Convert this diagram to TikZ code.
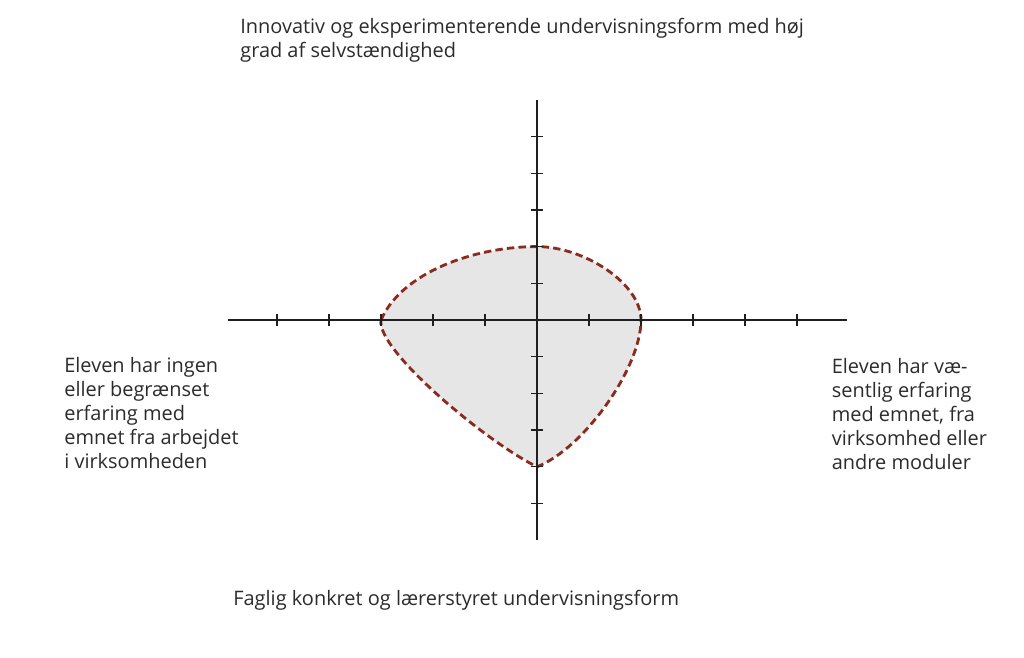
\documentclass[tikz,border=0pt]{standalone}
\usepackage{fontspec}
\setmainfont{Open Sans}
\usetikzlibrary{calc}
\definecolor{kurve}{HTML}{8B2A1E}
\definecolor{flade}{HTML}{E6E6E6}
\definecolor{tekst}{HTML}{2B2B2B}
\tikzset{
  akse/.style={line width=1.35pt,color=black!88},
  streg/.style={line width=0.75pt,color=black!88},
  omraade/.style={line width=1.6pt,color=kurve,dash pattern=on 4.2pt off 2.4pt,fill=flade},
  etiket/.style={inner sep=0pt,align=left,color=tekst,font=\fontsize{11.35}{13.66}\selectfont}
}
\begin{document}
\begin{tikzpicture}[x=1.04cm,y=0.734cm]
      \useasboundingbox (-10.327,-9.183) rectangle (9.365,8.719);
      % profil
      \draw[omraade] (-3,0) .. controls (-2.6,1.3) and (-1.2,2) .. (0,2)
        .. controls (0.9,2) and (2,1) .. (2,0)
        .. controls (2,-1.3) and (0.9,-3.5) .. (0,-4)
        .. controls (-1,-3.3) and (-3.1,-0.8) .. cycle;
      % akser
      \coordinate (venstre) at (-5.94,0);
      \coordinate (hoejre) at (5.96,0);
      \coordinate (top) at (0,6);
      \coordinate (bund) at (0,-6);
      \draw[akse] (venstre) -- (hoejre);
      \draw[akse] (bund) -- (top);
      \foreach \i in {-5,...,-1,1,2,...,5} {
        \draw[streg] (\i,0) ++(0,-0.12cm) -- ++(0,0.24cm);
        \draw[streg] (0,\i) ++(-0.12cm,0) -- ++(0.24cm,0);
      }
      % tekster (base = sidste linje)
      \node[etiket,anchor=base west] (oeverst) at (-5.712,7.158) {Innovativ og eksperimenterende undervisningsform med høj\\grad af selvstændighed};
      \node[etiket,anchor=base west] (nederst) at (-5.846,-7.785) {Faglig konkret og lærerstyret undervisningsform};
      \node[etiket,anchor=base west] (vest) at (-9.096,-4.052) {Eleven har ingen\\eller begrænset\\erfaring med\\emnet fra arbejdet\\i virksomheden};
      \node[etiket,anchor=base west] (oest) at (5.663,-4.068) {Eleven har væ-\\sentlig erfaring\\med emnet, fra\\virksomhed eller\\andre moduler};
    \end{tikzpicture}
\end{document}
